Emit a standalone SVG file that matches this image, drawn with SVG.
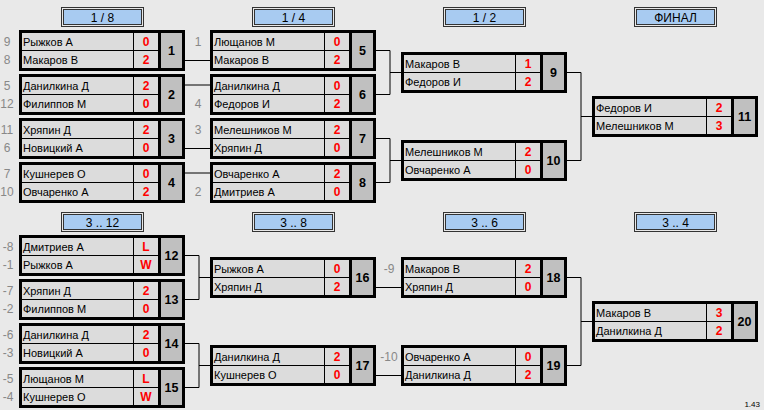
<svg xmlns="http://www.w3.org/2000/svg" xmlns:xlink="http://www.w3.org/1999/xlink" width="764" height="410" viewBox="0 0 764 410">
<style>
text{font-family:"Liberation Sans",Arial,sans-serif;}
.nm{font-size:11px;fill:#000;}
.sc{font-size:12px;font-weight:bold;fill:#ff0000;text-anchor:middle;}
.no{font-size:12.5px;font-weight:bold;fill:#000;text-anchor:middle;}
.sd{font-size:12px;fill:#888;text-anchor:middle;}
.hd{font-size:12px;fill:#000;text-anchor:middle;}
.cn{stroke:#000;stroke-width:1;fill:none;}
</style>
<defs>
<g id="box">
<rect x="1.5" y="1.5" width="163" height="38" fill="#dcdcdc" stroke="#000" stroke-width="3"/>
<rect x="140.5" y="1.5" width="24" height="38" fill="#c0c0c0" stroke="#000" stroke-width="3"/>
<line x1="3" y1="20.5" x2="139" y2="20.5" stroke="#000" stroke-width="1"/>
<line x1="114.5" y1="3" x2="114.5" y2="38" stroke="#000" stroke-width="1"/>
</g>
<g id="hdr">
<rect x="0.5" y="0.5" width="82" height="19" fill="#e8e8e8" stroke="#333" stroke-width="1"/>
<rect x="2.5" y="2.5" width="78" height="15" fill="#a8cbf1" stroke="#333" stroke-width="1"/>
</g>
</defs>
<rect width="764" height="410" fill="#e9e9e9"/>

<g id="headers">
<g id="h-18" transform="translate(61,7)"><use href="#hdr"/><text class="hd" x="41.5" y="14.5">1 / 8</text></g>
<g id="h-14" transform="translate(252,7)"><use href="#hdr"/><text class="hd" x="41.5" y="14.5">1 / 4</text></g>
<g id="h-12" transform="translate(443,7)"><use href="#hdr"/><text class="hd" x="41.5" y="14.5">1 / 2</text></g>
<g id="h-f" transform="translate(634,7)"><use href="#hdr"/><text class="hd" x="41.5" y="14.5">ФИНАЛ</text></g>
<g id="h-312" transform="translate(61,212)"><use href="#hdr"/><text class="hd" x="41.5" y="14.5">3 .. 12</text></g>
<g id="h-38" transform="translate(252,212)"><use href="#hdr"/><text class="hd" x="41.5" y="14.5">3 .. 8</text></g>
<g id="h-36" transform="translate(443,212)"><use href="#hdr"/><text class="hd" x="41.5" y="14.5">3 .. 6</text></g>
<g id="h-34" transform="translate(634,212)"><use href="#hdr"/><text class="hd" x="41.5" y="14.5">3 .. 4</text></g>
</g>

<g id="connectors">
<path class="cn" d="M185 60.5H210M185 85H210M185 148.5H210M185 173H210"/>
<path class="cn" d="M376 50.5H390V94.5H376M390 72.5H401M376 138.5H390V182.5H376M390 160.5H401"/>
<path class="cn" d="M567 72.5H581V160.5H567M581 116.5H592"/>
<path class="cn" d="M185 255.5H199V299.5H185M199 277.5H210M185 343.5H199V387.5H185M199 365.5H210"/>
<path class="cn" d="M376 287.5H401M376 375.5H401"/>
<path class="cn" d="M567 277.5H581V365.5H567M581 321.5H592"/>
</g>

<g id="seeds">
<text class="sd" x="7" y="46">9</text><text class="sd" x="7" y="64">8</text>
<text class="sd" x="7" y="90">5</text><text class="sd" x="7" y="108">12</text>
<text class="sd" x="7" y="134">11</text><text class="sd" x="7" y="152">6</text>
<text class="sd" x="7" y="178">7</text><text class="sd" x="7" y="196">10</text>
<text class="sd" x="198" y="46">1</text><text class="sd" x="198" y="108">4</text>
<text class="sd" x="198" y="134">3</text><text class="sd" x="198" y="196">2</text>
<text class="sd" x="8" y="251">-8</text><text class="sd" x="8" y="269">-1</text>
<text class="sd" x="8" y="295">-7</text><text class="sd" x="8" y="313">-2</text>
<text class="sd" x="8" y="339">-6</text><text class="sd" x="8" y="357">-3</text>
<text class="sd" x="8" y="383">-5</text><text class="sd" x="8" y="401">-4</text>
<text class="sd" x="389" y="273">-9</text><text class="sd" x="389" y="361">-10</text>
</g>

<g id="m1" transform="translate(19,30)"><use href="#box"/><text class="nm" x="4" y="15.5">Рыжков А</text><text class="nm" x="4" y="33.5">Макаров В</text><text class="sc" x="127" y="16">0</text><text class="sc" x="127" y="34">2</text><text class="no" x="152.5" y="25">1</text></g>
<g id="m2" transform="translate(19,74)"><use href="#box"/><text class="nm" x="4" y="15.5">Данилкина Д</text><text class="nm" x="4" y="33.5">Филиппов М</text><text class="sc" x="127" y="16">2</text><text class="sc" x="127" y="34">0</text><text class="no" x="152.5" y="25">2</text></g>
<g id="m3" transform="translate(19,118)"><use href="#box"/><text class="nm" x="4" y="15.5">Хряпин Д</text><text class="nm" x="4" y="33.5">Новицкий А</text><text class="sc" x="127" y="16">2</text><text class="sc" x="127" y="34">0</text><text class="no" x="152.5" y="25">3</text></g>
<g id="m4" transform="translate(19,162)"><use href="#box"/><text class="nm" x="4" y="15.5">Кушнерев О</text><text class="nm" x="4" y="33.5">Овчаренко А</text><text class="sc" x="127" y="16">0</text><text class="sc" x="127" y="34">2</text><text class="no" x="152.5" y="25">4</text></g>

<g id="m5" transform="translate(210,30)"><use href="#box"/><text class="nm" x="4" y="15.5">Лющанов М</text><text class="nm" x="4" y="33.5">Макаров В</text><text class="sc" x="127" y="16">0</text><text class="sc" x="127" y="34">2</text><text class="no" x="152.5" y="25">5</text></g>
<g id="m6" transform="translate(210,74)"><use href="#box"/><text class="nm" x="4" y="15.5">Данилкина Д</text><text class="nm" x="4" y="33.5">Федоров И</text><text class="sc" x="127" y="16">0</text><text class="sc" x="127" y="34">2</text><text class="no" x="152.5" y="25">6</text></g>
<g id="m7" transform="translate(210,118)"><use href="#box"/><text class="nm" x="4" y="15.5">Мелешников М</text><text class="nm" x="4" y="33.5">Хряпин Д</text><text class="sc" x="127" y="16">2</text><text class="sc" x="127" y="34">0</text><text class="no" x="152.5" y="25">7</text></g>
<g id="m8" transform="translate(210,162)"><use href="#box"/><text class="nm" x="4" y="15.5">Овчаренко А</text><text class="nm" x="4" y="33.5">Дмитриев А</text><text class="sc" x="127" y="16">2</text><text class="sc" x="127" y="34">0</text><text class="no" x="152.5" y="25">8</text></g>

<g id="m9" transform="translate(401,52)"><use href="#box"/><text class="nm" x="4" y="15.5">Макаров В</text><text class="nm" x="4" y="33.5">Федоров И</text><text class="sc" x="127" y="16">1</text><text class="sc" x="127" y="34">2</text><text class="no" x="152.5" y="25">9</text></g>
<g id="m10" transform="translate(401,140)"><use href="#box"/><text class="nm" x="4" y="15.5">Мелешников М</text><text class="nm" x="4" y="33.5">Овчаренко А</text><text class="sc" x="127" y="16">2</text><text class="sc" x="127" y="34">0</text><text class="no" x="152.5" y="25">10</text></g>

<g id="m11" transform="translate(592,96)"><use href="#box"/><text class="nm" x="4" y="15.5">Федоров И</text><text class="nm" x="4" y="33.5">Мелешников М</text><text class="sc" x="127" y="16">2</text><text class="sc" x="127" y="34">3</text><text class="no" x="152.5" y="25">11</text></g>

<g id="m12" transform="translate(19,235)"><use href="#box"/><text class="nm" x="4" y="15.5">Дмитриев А</text><text class="nm" x="4" y="33.5">Рыжков А</text><text class="sc" x="127" y="16">L</text><text class="sc" x="127" y="34">W</text><text class="no" x="152.5" y="25">12</text></g>
<g id="m13" transform="translate(19,279)"><use href="#box"/><text class="nm" x="4" y="15.5">Хряпин Д</text><text class="nm" x="4" y="33.5">Филиппов М</text><text class="sc" x="127" y="16">2</text><text class="sc" x="127" y="34">0</text><text class="no" x="152.5" y="25">13</text></g>
<g id="m14" transform="translate(19,323)"><use href="#box"/><text class="nm" x="4" y="15.5">Данилкина Д</text><text class="nm" x="4" y="33.5">Новицкий А</text><text class="sc" x="127" y="16">2</text><text class="sc" x="127" y="34">0</text><text class="no" x="152.5" y="25">14</text></g>
<g id="m15" transform="translate(19,367)"><use href="#box"/><text class="nm" x="4" y="15.5">Лющанов М</text><text class="nm" x="4" y="33.5">Кушнерев О</text><text class="sc" x="127" y="16">L</text><text class="sc" x="127" y="34">W</text><text class="no" x="152.5" y="25">15</text></g>

<g id="m16" transform="translate(210,257)"><use href="#box"/><text class="nm" x="4" y="15.5">Рыжков А</text><text class="nm" x="4" y="33.5">Хряпин Д</text><text class="sc" x="127" y="16">0</text><text class="sc" x="127" y="34">2</text><text class="no" x="152.5" y="25">16</text></g>
<g id="m17" transform="translate(210,345)"><use href="#box"/><text class="nm" x="4" y="15.5">Данилкина Д</text><text class="nm" x="4" y="33.5">Кушнерев О</text><text class="sc" x="127" y="16">2</text><text class="sc" x="127" y="34">0</text><text class="no" x="152.5" y="25">17</text></g>

<g id="m18" transform="translate(401,257)"><use href="#box"/><text class="nm" x="4" y="15.5">Макаров В</text><text class="nm" x="4" y="33.5">Хряпин Д</text><text class="sc" x="127" y="16">2</text><text class="sc" x="127" y="34">0</text><text class="no" x="152.5" y="25">18</text></g>
<g id="m19" transform="translate(401,345)"><use href="#box"/><text class="nm" x="4" y="15.5">Овчаренко А</text><text class="nm" x="4" y="33.5">Данилкина Д</text><text class="sc" x="127" y="16">0</text><text class="sc" x="127" y="34">2</text><text class="no" x="152.5" y="25">19</text></g>

<g id="m20" transform="translate(592,301)"><use href="#box"/><text class="nm" x="4" y="15.5">Макаров В</text><text class="nm" x="4" y="33.5">Данилкина Д</text><text class="sc" x="127" y="16">3</text><text class="sc" x="127" y="34">2</text><text class="no" x="152.5" y="25">20</text></g>

<text x="760" y="407" style="font-size:8px;fill:#000;text-anchor:end;">1.43</text>
</svg>
